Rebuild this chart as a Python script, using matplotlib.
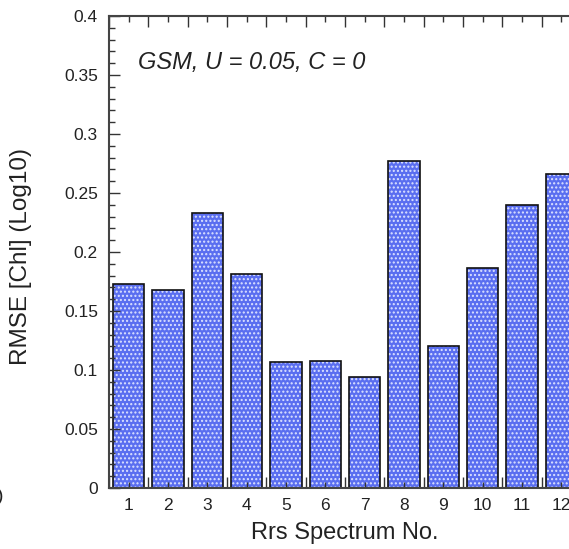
import numpy as np
import matplotlib.pyplot as plt

plt.rcParams['font.family'] = ['Liberation Sans', 'DejaVu Sans']

# RMSE per Rrs spectrum
spectrum_no = [1, 2, 3, 4, 5, 6, 7, 8, 9, 10, 11, 12]
rmse = [0.1725, 0.168, 0.233, 0.1816, 0.1064, 0.1073, 0.094,
        0.2774, 0.1206, 0.1864, 0.2395, 0.2661]
yticks = [0, 0.05, 0.1, 0.15, 0.2, 0.25, 0.3, 0.35, 0.4]
ytick_labels = ['0', '0.05', '0.1', '0.15', '0.2', '0.25', '0.3', '0.35', '0.4']

fig = plt.figure(figsize=(5.69, 5.49), dpi=100)
# axes run past the right edge: the reference is a cropped panel
ax = fig.add_axes([109 / 569, 61 / 549, 472 / 569, 472 / 549])

# hatched fill, then black outline on top
ax.bar(spectrum_no, rmse, width=0.8, color='#5a6ef0', edgecolor='#dde3ff',
       hatch='....', linewidth=0)
ax.bar(spectrum_no, rmse, width=0.8, fill=False, edgecolor='#111111',
       linewidth=1.2)

ax.set_xlim(0.5, 12.5)
ax.set_ylim(0, 0.4)
ax.set_xticks(spectrum_no)
ax.set_xticks(np.arange(0.5, 13, 1), minor=True)
ax.set_yticks(yticks)
ax.set_yticklabels(ytick_labels)
ax.set_yticks(np.arange(0, 0.401, 0.01), minor=True)

ax.tick_params(axis='both', which='both', direction='in', top=True, right=True,
               color='#333333', labelsize=12.5, labelcolor='#222222')
ax.tick_params(axis='y', which='major', length=8, width=1, pad=8)
ax.tick_params(axis='y', which='minor', length=4, width=1)
ax.tick_params(axis='x', which='major', length=4, width=1, pad=7)
ax.tick_params(axis='x', which='minor', length=8, width=1)
for sp in ax.spines.values():
    sp.set_color('#444444')
    sp.set_linewidth(1.5)

ax.text(0.061, 0.9025, 'GSM, U = 0.05, C = 0', transform=ax.transAxes,
        fontsize=17, style='italic', color='#222222', va='center')

ax.set_xlabel('Rrs Spectrum No.', fontsize=17, color='#222222')
ax.xaxis.set_label_coords(0.5, -0.071)
ax.set_ylabel('RMSE [Chl] (Log10)', fontsize=17.5, color='#222222')
ax.yaxis.set_label_coords(-0.163, 0.49)

# clipped panel label from the neighbouring figure
fig.text(0.006, 0.095, ')', fontsize=14, ha='right', va='center', color='#222222')

fig.savefig('out.png', dpi=100)
